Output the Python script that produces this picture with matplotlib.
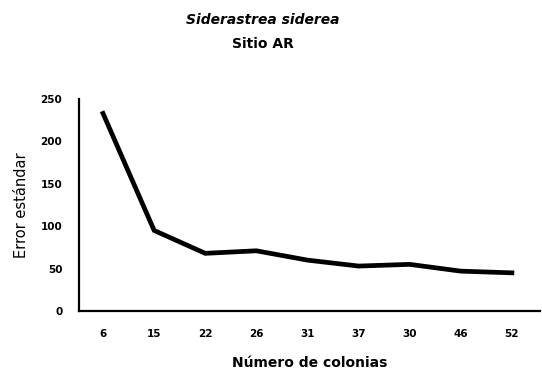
import matplotlib
matplotlib.use("Agg")
import matplotlib.pyplot as plt

# Number of colonies sampled (category labels) and the standard error for each
colonias = ["6", "15", "22", "26", "31", "37", "30", "46", "52"]
error_estandar = [233, 95, 68, 71, 60, 53, 55, 47, 45]
y_ticks = [0, 50, 100, 150, 200, 250]

W, H = 542, 372
fig = plt.figure(figsize=(W / 100, H / 100), dpi=100)
fig.patch.set_facecolor("white")

left, right, bottom, top = 79, 540, 311, 99
ax = fig.add_axes([left / W, 1 - bottom / H, (right - left) / W, (bottom - top) / H])

x = list(range(len(colonias)))
ax.plot(x, error_estandar, color="black", linewidth=3.4, solid_joinstyle="miter")

ax.set_xlim(-0.47, len(colonias) - 1 + 0.55)
ax.set_ylim(0, 250)
ax.set_xticks(x)
ax.set_xticklabels(colonias)
ax.set_yticks(y_ticks)
ax.set_yticklabels([str(v) for v in y_ticks])

for lbl in ax.get_xticklabels() + ax.get_yticklabels():
    lbl.set_fontweight("bold")
    lbl.set_fontsize(7.5)
ax.tick_params(axis="both", length=0)
ax.tick_params(axis="x", pad=13)
ax.tick_params(axis="y", pad=12)

ax.spines["top"].set_visible(False)
ax.spines["right"].set_visible(False)
ax.spines["left"].set_linewidth(1.6)
ax.spines["bottom"].set_linewidth(1.6)

ax.set_xlabel("Número de colonias", fontsize=10, fontweight="bold", labelpad=12)
ax.set_ylabel("Error estándar", fontsize=10.5)
ax.yaxis.set_label_coords(-0.108, 0.5)

fig.text(263 / W, 1 - 20 / H, "Siderastrea siderea", ha="center", va="center",
         fontsize=10, style="italic", fontweight="bold")
fig.text(263 / W, 1 - 44 / H, "Sitio AR", ha="center", va="center",
         fontsize=10, fontweight="bold")

fig.savefig("out.png", dpi=100, facecolor="white")
